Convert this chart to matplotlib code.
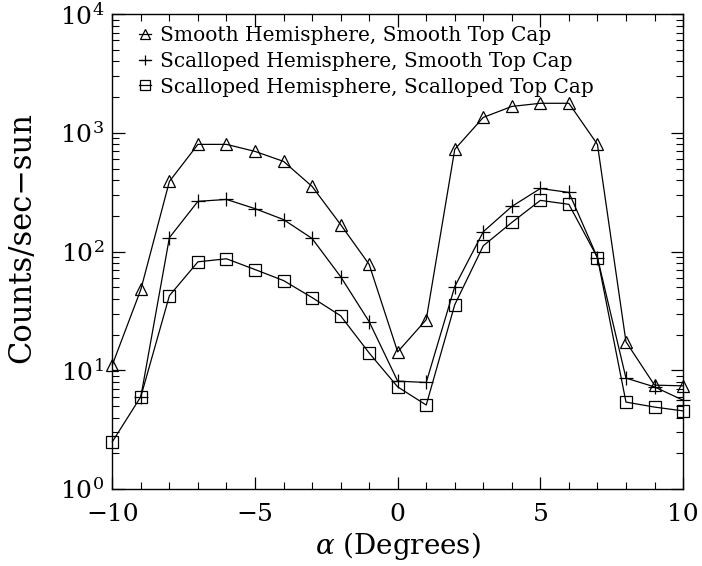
import matplotlib
matplotlib.use('Agg')
import matplotlib.pyplot as plt
import numpy as np
from matplotlib.ticker import LogLocator, MultipleLocator, NullFormatter

plt.rcParams['font.family'] = 'DejaVu Serif'
plt.rcParams['mathtext.fontset'] = 'dejavuserif'

# angle (degrees) and count rates
alpha_tri = [-10, -9, -8, -7, -6, -5, -4, -3, -2, -1, 0, 1, 2, 3, 4, 5, 6, 7, 8, 9, 10]
smooth_smooth = [11.1, 48, 390, 800, 800, 698, 575, 354, 169, 78, 14.3, 26.7,
                 727, 1350, 1670, 1775, 1775, 800, 17.4, 7.5, 7.4]

alpha_plus = [-9, -8, -7, -6, -5, -4, -3, -2, -1, 0, 1, 2, 3, 4, 5, 6, 7, 8, 9, 10]
scal_smooth = [6.0, 131, 265, 275, 230, 186, 129, 61.5, 25.7, 8.1, 7.9,
               50.7, 147, 240, 340, 315, 89, 8.6, 7.25, 5.6]

alpha_sq = [-10, -9, -8, -7, -6, -5, -4, -3, -2, -1, 0, 1, 2, 3, 4, 5, 6, 7, 8, 9, 10]
scal_scal = [2.5, 6.0, 42.5, 82, 87, 70.6, 57, 41, 28.8, 14, 7.25, 5.1,
             35.7, 112, 176, 270, 250, 89, 5.4, 4.9, 4.55]

labels = ['Smooth Hemisphere, Smooth Top Cap',
          'Scalloped Hemisphere, Smooth Top Cap',
          'Scalloped Hemisphere, Scalloped Top Cap']

fig = plt.figure(figsize=(7.02, 5.66), dpi=100)
ax = fig.add_axes([0.16, 0.136, 0.813, 0.839])

ax.plot(alpha_tri, smooth_smooth, color='black', lw=0.9, marker='^', ms=9,
        mfc='none', mec='black', mew=0.9, label=labels[0], clip_on=False)
ax.plot(alpha_plus, scal_smooth, color='black', lw=0.9, marker='+', ms=10,
        mew=0.9, label=labels[1], clip_on=False)
ax.plot(alpha_sq, scal_scal, color='black', lw=0.9, marker='s', ms=9,
        mfc='none', mec='black', mew=0.9, label=labels[2], clip_on=False)

ax.set_yscale('log')
ax.set_xlim(-10, 10)
ax.set_ylim(1, 1e4)
ax.xaxis.set_major_locator(MultipleLocator(5))
ax.xaxis.set_minor_locator(MultipleLocator(1))
ax.yaxis.set_major_locator(LogLocator(base=10, numticks=10))
ax.yaxis.set_minor_locator(LogLocator(base=10, subs=np.arange(2, 10), numticks=10))
ax.yaxis.set_minor_formatter(NullFormatter())
ax.set_xticks([-10, -5, 0, 5, 10])
ax.set_xticklabels(['\u221210', '\u22125', '0', '5', '10'])

ax.tick_params(which='both', direction='in', top=True, right=True, labelsize=18)
ax.tick_params(which='major', length=9, width=0.9)
ax.tick_params(which='minor', length=5, width=0.8)
ax.tick_params(axis='x', pad=10)
ax.tick_params(axis='y', pad=6)
for s in ax.spines.values():
    s.set_linewidth(1.0)

ax.set_xlabel(r'$\alpha$ (Degrees)', fontsize=20, labelpad=3)
ax.set_ylabel('Counts/sec\u2212sun', fontsize=22)
ax.yaxis.set_label_coords(-0.131, 0.53)

ax.legend(loc='upper left', frameon=False, fontsize=14.5, handlelength=0.6,
          handletextpad=0.45, labelspacing=0.33, borderaxespad=0.2,
          markerscale=0.75, bbox_to_anchor=(0.025, 1.0))

fig.savefig('out.png', dpi=100)
